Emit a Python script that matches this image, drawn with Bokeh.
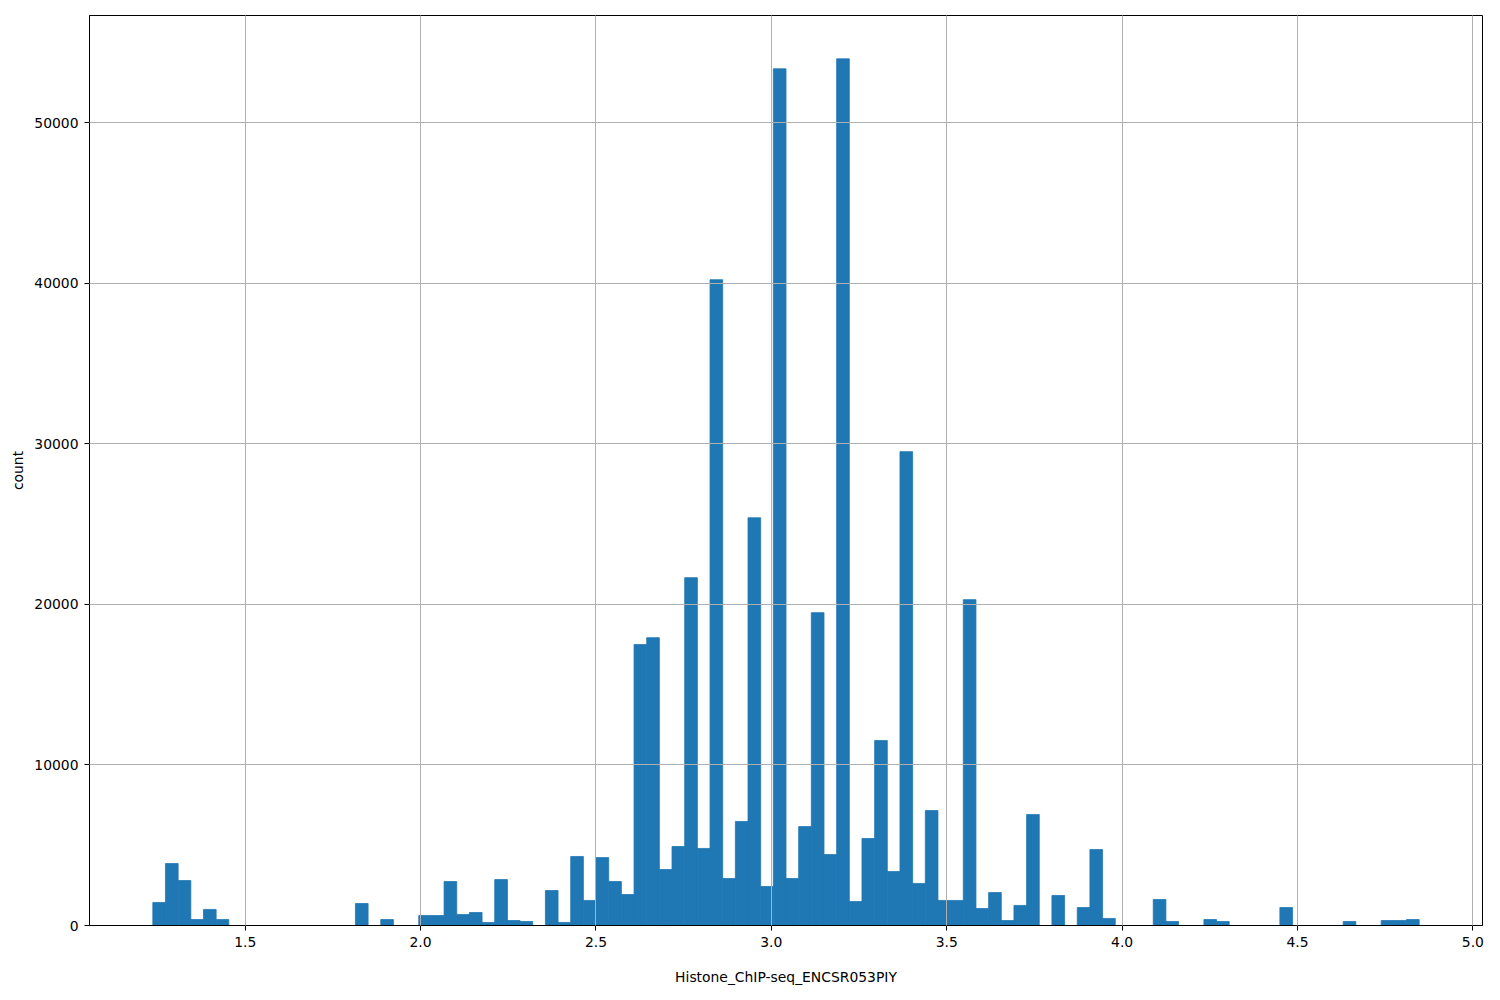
import numpy as np
from bokeh.plotting import figure
from bokeh.models import FixedTicker, NumeralTickFormatter, BasicTickFormatter, Range1d, ColumnDataSource
from bokeh.embed import file_html
from bokeh.resources import INLINE

# Histogram data (100 equal-width bins)
bin_min = 1.2366
bin_max = 4.847
counts = [1430, 3860, 2800, 370, 1000, 370, 0, 0, 0, 0,
          0, 0, 0, 0, 0, 0, 1370, 0, 370, 0,
          0, 620, 620, 2740, 680, 810, 190, 2860, 310, 250,
          0, 2180, 190, 4300, 1560, 4230, 2740, 1930, 17500, 17930,
          3490, 4920, 21670, 4800, 40230, 2930, 6480, 25400, 2430, 53370,
          2930, 6160, 19490, 4420, 53990, 1490, 5420, 11520, 3360, 29520,
          2620, 7160, 1560, 1560, 20300, 1060, 2050, 310, 1250, 6910,
          0, 1870, 0, 1120, 4730, 440, 0, 0, 0, 1620,
          250, 0, 0, 370, 250, 0, 0, 0, 0, 1120,
          0, 0, 0, 0, 250, 0, 0, 310, 310, 370]
x_ticks = [1.5, 2.0, 2.5, 3.0, 3.5, 4.0, 4.5, 5.0]
y_ticks = [0, 10000, 20000, 30000, 40000, 50000]
x_label = "Histone_ChIP-seq_ENCSR053PIY"
y_label = "count"

edges = np.linspace(bin_min, bin_max, len(counts) + 1)
src = ColumnDataSource(dict(left=edges[:-1], right=edges[1:],
                            top=counts, bottom=[0] * len(counts)))

span = bin_max - bin_min
p = figure(width=1492, height=992, output_backend="svg", toolbar_location=None,
           x_range=Range1d(bin_min - 0.05 * span, bin_max + 0.05 * span),
           y_range=Range1d(0, max(counts) * 1.05),
           min_border_left=89, min_border_right=10, min_border_top=15, min_border_bottom=67)

p.quad(left="left", right="right", top="top", bottom="bottom", source=src,
       fill_color="#1f77b4", line_color="#1f77b4", line_width=0.8)

p.background_fill_color = "white"
p.border_fill_color = "white"
p.outline_line_color = "black"
p.outline_line_width = 1

for g in (p.xgrid, p.ygrid):
    g.grid_line_color = "#b0b0b0"
    g.grid_line_width = 1
    g.level = "overlay"

p.xaxis.ticker = FixedTicker(ticks=x_ticks)
p.yaxis.ticker = FixedTicker(ticks=y_ticks)
p.xaxis.formatter = NumeralTickFormatter(format="0.0")
p.yaxis.formatter = BasicTickFormatter(use_scientific=False)

for ax in (p.xaxis, p.yaxis):
    ax.axis_line_color = "black"
    ax.major_tick_line_color = "black"
    ax.major_tick_out = 5
    ax.major_tick_in = 0
    ax.minor_tick_line_color = None
    ax.major_label_text_font = "DejaVu Sans"
    ax.major_label_text_font_size = "13.9px"
    ax.major_label_text_color = "black"
    ax.axis_label_text_font = "DejaVu Sans"
    ax.axis_label_text_font_size = "13.9px"
    ax.axis_label_text_font_style = "normal"
    ax.axis_label_text_color = "black"
    ax.major_label_standoff = 6

p.xaxis.axis_label = x_label
p.yaxis.axis_label = y_label
p.xaxis.axis_label_standoff = 19
p.yaxis.axis_label_standoff = 5

open("out.html", "w").write(file_html(p, INLINE))
